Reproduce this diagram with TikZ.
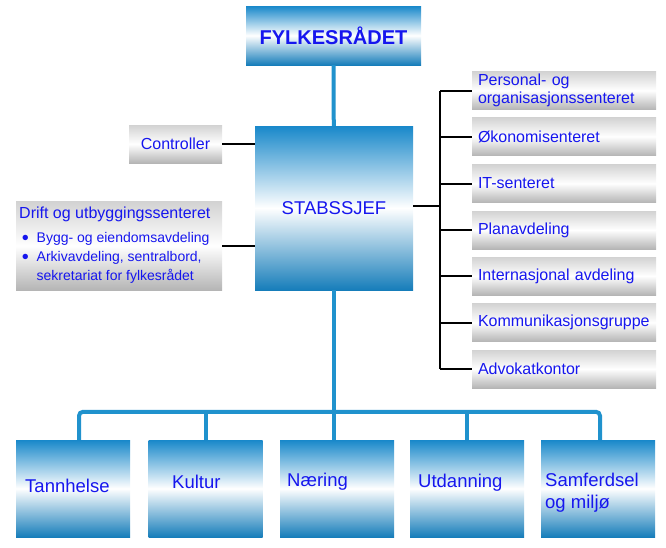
\documentclass[tikz,border=0pt]{standalone}
\usepackage{fontspec}
\setmainfont{Liberation Sans}
\usetikzlibrary{calc}

\definecolor{boxblue}{RGB}{24,136,202}
\definecolor{lineblue}{RGB}{32,146,205}
\definecolor{txtblue}{RGB}{22,22,238}

\newcommand{\listdot}{\makebox[15pt][l]{\raisebox{1pt}{\fontsize{12.5}{12}\selectfont ●}}}

\tikzset{
  bluebox/.style={rectangle, top color=boxblue, bottom color=boxblue!92!black,
    middle color=white, inner sep=0pt, text=txtblue},
  graybox/.style={rectangle, top color=gray!35, bottom color=gray!58,
    middle color=white, inner sep=0pt, text=txtblue},
  sidebox/.style={graybox, minimum width=184pt, minimum height=38pt,
    text width=172pt, inner xsep=6pt, align=left,
    font=\fontsize{16}{18}\selectfont},
  unitbox/.style={bluebox, minimum width=114pt, minimum height=97pt},
  txt/.style={text=txtblue, inner sep=0pt},
  unittxt/.style={txt, anchor=west, align=left, font=\fontsize{18.5}{22}\selectfont},
  blueline/.style={draw=lineblue, line width=4pt},
  blackline/.style={draw=black, line width=2pt}
}

\begin{document}
\begin{tikzpicture}[x=1pt,y=-1pt]
      \useasboundingbox (0,0) rectangle (666,547);

      % 1. fylkesradet og stabssjef
      \node[bluebox, minimum width=175pt, minimum height=59pt,
        font=\bfseries\fontsize{20}{24}\selectfont] (fylke) at (333.5,35.5) {FYLKESRÅDET};
      \node[bluebox, minimum width=158pt, minimum height=164pt,
        font=\fontsize{18.5}{22}\selectfont] (stab) at (334,208) {STABSSJEF};

      % 2. venstre side
      \node[graybox, minimum width=93pt, minimum height=38pt,
        font=\fontsize{16}{18}\selectfont] (ctrl) at (175.5,144) {Controller};
      \node[graybox, minimum width=206pt, minimum height=89pt] (drift) at (119,245.5) {};
      \node[txt, anchor=north west, font=\fontsize{16}{18}\selectfont] (drifttitle) at (19,207)
        {Drift og utbyggingssenteret};
      \node[txt, anchor=north west, align=left, font=\fontsize{14}{19}\selectfont] (driftlist) at (21.5,232)
        {\listdot Bygg- og eiendomsavdeling\\
         \listdot Arkivavdeling, sentralbord,\\
         \hspace*{15pt}sekretariat for fylkesrådet};

      % 3. hoyre side
      \node[sidebox] (r1) at (564,90.5) {Personal- og\\organisasjonssenteret};
      \node[sidebox] (r2) at (564,136.5) {Økonomisenteret};
      \node[sidebox] (r3) at (564,183.5) {IT-senteret};
      \node[sidebox] (r4) at (564,230) {Planavdeling};
      \node[sidebox] (r5) at (564,276) {Internasjonal avdeling};
      \node[sidebox] (r6) at (564,322.5) {Kommunikasjonsgruppe};
      \node[sidebox] (r7) at (564,369) {Advokatkontor};

      % 4. enhetene nederst
      \node[unitbox] (tann) at (73,488.5) {};
      \node[unitbox] (kult) at (205.5,488.5) {};
      \node[unitbox] (naer) at (337,488.5) {};
      \node[unitbox] (utd) at (467,488.5) {};
      \node[unitbox] (samf) at (598,488.5) {};
      \node[unittxt] (tanntxt) at (25,486) {Tannhelse};
      \node[unittxt] (kulttxt) at (172,482) {Kultur};
      \node[unittxt] (naertxt) at (287,482) {Næring};
      \node[unittxt] (utdtxt) at (418,483) {Utdanning};
      \node[unittxt] (samftxt) at (545,493) {Samferdsel\\og miljø};

      % 5. blå linjer
      \draw[blueline] (fylke) -- (stab);
      \draw[blueline] (stab.south) -- (stab.south |- naer.north);
      \draw[blueline, rounded corners=4pt] ($(tann.north)+(6,0)$) -- ++(0,-28)
        -| ($(samf.north)+(2,0)$);
      \draw[blueline] (kult.north) -- ++(0,-28);
      \draw[blueline] (utd.north) -- ++(0,-28);

      % 6. svarte linjer
      \coordinate (spine) at (440,206);
      \draw[blackline] (ctrl.east) -- (ctrl.east -| stab.west);
      \draw[blackline] (drift.east) -- (drift.east -| stab.west);
      \draw[blackline] (stab.east |- spine) -- (spine);
      \draw[blackline] (spine |- r1.west) -- (spine |- r7.west);
      \draw[blackline] (spine |- r1.west) -- (r1.west) (spine |- r2.west) -- (r2.west)
        (spine |- r3.west) -- (r3.west) (spine |- r4.west) -- (r4.west)
        (spine |- r5.west) -- (r5.west) (spine |- r6.west) -- (r6.west)
        (spine |- r7.west) -- (r7.west);
\end{tikzpicture}
\end{document}
